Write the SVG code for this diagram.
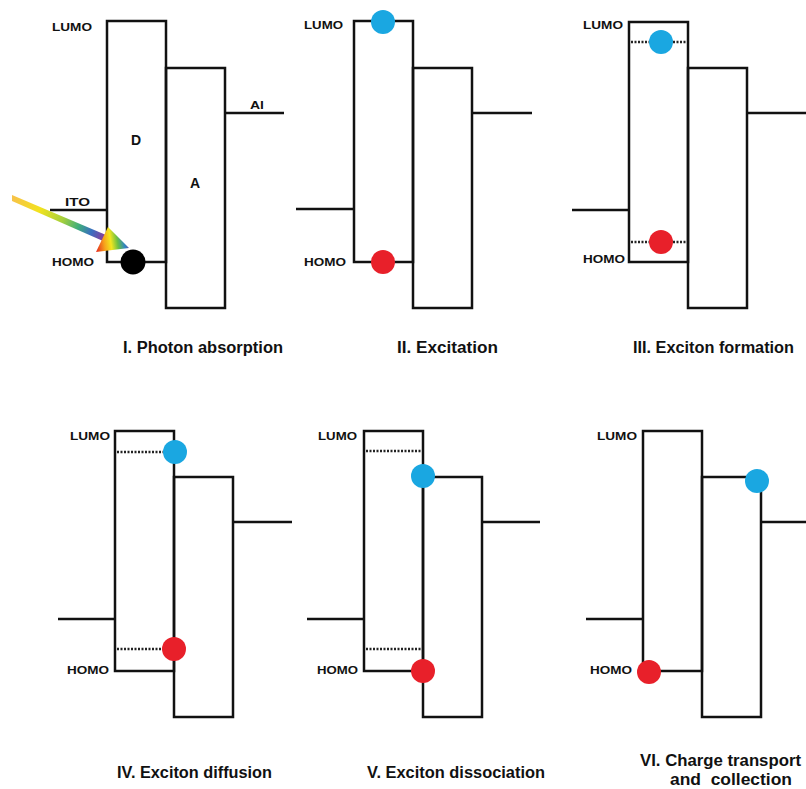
<svg xmlns="http://www.w3.org/2000/svg" width="806" height="789" viewBox="0 0 806 789">
  <defs>
    <style>
      .band { fill: none; stroke: #111; stroke-width: 2.5; }
      .lead { fill: none; stroke: #111; stroke-width: 2.5; }
      .exc { fill: none; stroke: #222; stroke-width: 2.5; stroke-dasharray: 2 1.5; }
      .e { fill: #1aa7e1; }
      .h { fill: #e8202a; }
      .lvl { font-family: "Liberation Sans", Arial, sans-serif; font-weight: bold; font-size: 11px; fill: #111; }
      .big { font-family: "Liberation Sans", Arial, sans-serif; font-weight: bold; font-size: 14px; fill: #111; text-anchor: middle; }
      .cap { font-family: "Liberation Sans", Arial, sans-serif; font-weight: bold; font-size: 16px; fill: #111; }
    </style>
    <linearGradient id="beam" gradientUnits="userSpaceOnUse" x1="12" y1="198" x2="104" y2="238">
      <stop offset="0" stop-color="#f7c24a"/>
      <stop offset="0.3" stop-color="#f2e21e"/>
      <stop offset="0.55" stop-color="#a6d03c"/>
      <stop offset="0.72" stop-color="#3fae7a"/>
      <stop offset="0.86" stop-color="#3a6fc0"/>
      <stop offset="1" stop-color="#8a3c9c"/>
    </linearGradient>
    <linearGradient id="prism" gradientUnits="userSpaceOnUse" x1="96" y1="245" x2="129" y2="240">
      <stop offset="0" stop-color="#e6301e"/>
      <stop offset="0.25" stop-color="#f6a21c"/>
      <stop offset="0.45" stop-color="#f3e61e"/>
      <stop offset="0.65" stop-color="#6cc043"/>
      <stop offset="0.85" stop-color="#2f86c2"/>
      <stop offset="1" stop-color="#6a4aa0"/>
    </linearGradient>
  </defs>
  <rect width="806" height="789" fill="#fff"/>

  <!-- I. Photon absorption -->
  <g id="panel-1">
    <line class="lead" x1="50" y1="210" x2="107" y2="210"/>
    <line class="lead" x1="225" y1="113" x2="284" y2="113"/>
    <rect class="band" x="107" y="21" width="59" height="241"/>
    <rect class="band" x="166" y="68" width="59" height="240"/>
    <polygon points="12,195 106,235 103,241 12,201" fill="url(#beam)"/>
    <polygon points="108,227 96,252 129,248" fill="url(#prism)"/>
    <circle cx="133" cy="262" r="12.5" fill="#000"/>
    <text class="lvl" x="52" y="31" textLength="40" lengthAdjust="spacingAndGlyphs">LUMO</text>
    <text class="lvl" x="52" y="266" textLength="42" lengthAdjust="spacingAndGlyphs">HOMO</text>
    <text class="lvl" x="65" y="206" textLength="25" lengthAdjust="spacingAndGlyphs">ITO</text>
    <text class="lvl" x="250" y="109" textLength="14" lengthAdjust="spacingAndGlyphs">Al</text>
    <text class="big" x="136" y="145">D</text>
    <text class="big" x="195" y="188">A</text>
    <text class="cap" x="123" y="353" textLength="160" lengthAdjust="spacingAndGlyphs">I. Photon absorption</text>
  </g>

  <!-- II. Excitation -->
  <g id="panel-2">
    <line class="lead" x1="296" y1="209" x2="354" y2="209"/>
    <line class="lead" x1="472" y1="113" x2="532" y2="113"/>
    <rect class="band" x="354" y="21" width="59" height="241"/>
    <rect class="band" x="413" y="68" width="59" height="240"/>
    <circle class="e" cx="383" cy="22" r="12"/>
    <circle class="h" cx="383" cy="262" r="12"/>
    <text class="lvl" x="304" y="29" textLength="39" lengthAdjust="spacingAndGlyphs">LUMO</text>
    <text class="lvl" x="304" y="266" textLength="42" lengthAdjust="spacingAndGlyphs">HOMO</text>
    <text class="cap" x="397" y="353" textLength="101" lengthAdjust="spacingAndGlyphs">II. Excitation</text>
  </g>

  <!-- III. Exciton formation -->
  <g id="panel-3">
    <line class="lead" x1="572" y1="210" x2="629" y2="210"/>
    <line class="lead" x1="747" y1="113" x2="806" y2="113"/>
    <rect class="band" x="629" y="22" width="59" height="240"/>
    <rect class="band" x="688" y="68" width="59" height="240"/>
    <line class="exc" x1="631" y1="42" x2="686" y2="42"/>
    <line class="exc" x1="631" y1="242" x2="686" y2="242"/>
    <circle class="e" cx="661" cy="42" r="12"/>
    <circle class="h" cx="661" cy="242" r="12"/>
    <text class="lvl" x="583" y="29" textLength="40" lengthAdjust="spacingAndGlyphs">LUMO</text>
    <text class="lvl" x="583" y="263" textLength="42" lengthAdjust="spacingAndGlyphs">HOMO</text>
    <text class="cap" x="633" y="353" textLength="161" lengthAdjust="spacingAndGlyphs">III. Exciton formation</text>
  </g>

  <!-- IV. Exciton diffusion -->
  <g id="panel-4">
    <line class="lead" x1="58" y1="619" x2="115" y2="619"/>
    <line class="lead" x1="233" y1="522" x2="292" y2="522"/>
    <rect class="band" x="115" y="431" width="59" height="240"/>
    <rect class="band" x="174" y="477" width="59" height="240"/>
    <line class="exc" x1="117" y1="452" x2="166" y2="452"/>
    <line class="exc" x1="117" y1="649" x2="165" y2="649"/>
    <circle class="e" cx="175" cy="452" r="12"/>
    <circle class="h" cx="174" cy="649" r="12"/>
    <text class="lvl" x="70" y="440" textLength="40" lengthAdjust="spacingAndGlyphs">LUMO</text>
    <text class="lvl" x="67" y="674" textLength="42" lengthAdjust="spacingAndGlyphs">HOMO</text>
    <text class="cap" x="117" y="778" textLength="155" lengthAdjust="spacingAndGlyphs">IV. Exciton diffusion</text>
  </g>

  <!-- V. Exciton dissociation -->
  <g id="panel-5">
    <line class="lead" x1="307" y1="619" x2="364" y2="619"/>
    <line class="lead" x1="482" y1="522" x2="540" y2="522"/>
    <rect class="band" x="364" y="431" width="59" height="240"/>
    <rect class="band" x="423" y="477" width="59" height="240"/>
    <line class="exc" x1="366" y1="451" x2="421" y2="451"/>
    <line class="exc" x1="366" y1="649" x2="421" y2="649"/>
    <circle class="e" cx="423" cy="476" r="12"/>
    <circle class="h" cx="423" cy="671" r="12"/>
    <text class="lvl" x="318" y="440" textLength="39" lengthAdjust="spacingAndGlyphs">LUMO</text>
    <text class="lvl" x="317" y="674" textLength="41" lengthAdjust="spacingAndGlyphs">HOMO</text>
    <text class="cap" x="367" y="778" textLength="178" lengthAdjust="spacingAndGlyphs">V. Exciton dissociation</text>
  </g>

  <!-- VI. Charge transport and collection -->
  <g id="panel-6">
    <line class="lead" x1="586" y1="619" x2="643" y2="619"/>
    <line class="lead" x1="761" y1="522" x2="806" y2="522"/>
    <rect class="band" x="643" y="431" width="59" height="240"/>
    <rect class="band" x="702" y="477" width="59" height="240"/>
    <circle class="e" cx="757" cy="481" r="12"/>
    <circle class="h" cx="649" cy="672" r="12"/>
    <text class="lvl" x="597" y="440" textLength="40" lengthAdjust="spacingAndGlyphs">LUMO</text>
    <text class="lvl" x="590" y="674" textLength="42" lengthAdjust="spacingAndGlyphs">HOMO</text>
    <text class="cap" x="640" y="766" textLength="161" lengthAdjust="spacingAndGlyphs">VI. Charge transport</text>
    <text class="cap" x="670" y="784.5" textLength="122" lengthAdjust="spacingAndGlyphs" xml:space="preserve">and  collection</text>
  </g>
</svg>
